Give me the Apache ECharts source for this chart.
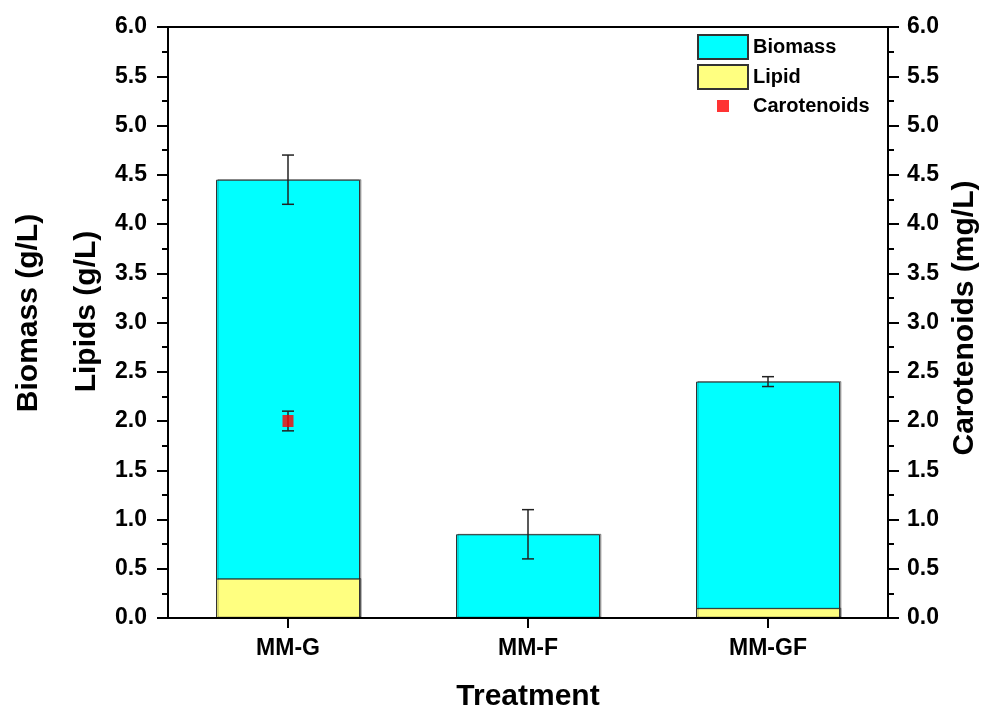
<!DOCTYPE html>
<html><head><meta charset="utf-8">
<script src="https://cdn.jsdelivr.net/npm/echarts@6/dist/echarts.min.js"></script>
<style>html,body{margin:0;padding:0;background:#fff}#c{width:984px;height:710px}</style>
</head><body><div id="c"></div>
<script>
// ---- data ----
const categories = ['MM-G', 'MM-F', 'MM-GF'];
const biomass = [4.45, 0.85, 2.40];
const biomassErr = [0.25, 0.25, 0.05];
const lipid = [0.40, 0, 0.10];
const carotenoids = [2.00, null, null];
const carotenoidsErr = [0.10, null, null];
const yMin = 0, yMax = 6, yInterval = 0.5;

// ---- layout ----
const G = {left: 168, right: 96, top: 27, bottom: 92};
const W = 984, H = 710;
const FONT = "'Liberation Sans', Arial, sans-serif";

function errData(vals, errs) {
  const out = [];
  vals.forEach((v, i) => { if (v != null && errs[i] != null) out.push([i, v - errs[i], v + errs[i]]); });
  return out;
}
function errRender(params, api) {
  const x = api.value(0);
  const lo = api.coord([x, api.value(1)]);
  const hi = api.coord([x, api.value(2)]);
  const w = 6;
  const st = {stroke: '#222', lineWidth: 1.5};
  return {type: 'group', children: [
    {type: 'line', shape: {x1: lo[0], y1: lo[1], x2: hi[0], y2: hi[1]}, style: st},
    {type: 'line', shape: {x1: lo[0] - w, y1: lo[1], x2: lo[0] + w, y2: lo[1]}, style: st},
    {type: 'line', shape: {x1: hi[0] - w, y1: hi[1], x2: hi[0] + w, y2: hi[1]}, style: st}
  ]};
}

const labelStyle = {fontFamily: FONT, fontWeight: 'bold', fontSize: 23, color: '#000'};
const nameStyle = {fontFamily: FONT, fontWeight: 'bold', fontSize: 30, color: '#000'};

function yAxisBase(extra) {
  return Object.assign({
    type: 'value', min: yMin, max: yMax, interval: yInterval,
    axisLine: {show: true, lineStyle: {color: '#000', width: 2}},
    axisTick: {show: true, inside: false, length: 11, lineStyle: {color: '#000', width: 2}},
    minorTick: {show: true, splitNumber: 2, length: 6, lineStyle: {color: '#000', width: 2}},
    splitLine: {show: false},
    axisLabel: Object.assign({margin: 21, formatter: v => v.toFixed(1)}, labelStyle),
    nameLocation: 'middle', nameRotate: 90
  }, extra);
}

const chart = echarts.init(document.getElementById('c'), null, {renderer: 'canvas'});
chart.setOption({
  backgroundColor: '#fff',
  animation: false,
  grid: {left: G.left, right: G.right, top: G.top, bottom: G.bottom, show: false,
    containLabel: false, outerBoundsMode: 'none'},
  legend: {
    left: 692, top: 29, orient: 'vertical', itemWidth: 50, itemHeight: 24, itemGap: 4,
    selectedMode: false,
    textStyle: {fontFamily: FONT, fontWeight: 'bold', fontSize: 20, color: '#000'},
    data: [
      {name: 'Biomass', icon: 'rect'},
      {name: 'Lipid', icon: 'rect'},
      {name: 'Carotenoids', icon: 'path://M0,0M50,24M19,6h12v12h-12z'}
    ]
  },
  xAxis: {
    type: 'category', data: categories,
    axisLine: {show: true, lineStyle: {color: '#000', width: 2}},
    axisTick: {show: true, alignWithLabel: true, length: 10, lineStyle: {color: '#000', width: 2}},
    axisLabel: Object.assign({margin: 19}, labelStyle),
    name: 'Treatment', nameLocation: 'middle', nameGap: 64, nameTextStyle: nameStyle
  },
  yAxis: [
    yAxisBase({position: 'left', name: 'Lipids (g/L)', nameGap: 66,
      nameTextStyle: Object.assign({padding: [0, 0, 0, 22]}, nameStyle)}),
    yAxisBase({position: 'right', name: 'Carotenoids (mg/L)', nameGap: 62,
      axisLabel: Object.assign({margin: 19, formatter: v => v.toFixed(1)}, labelStyle),
      nameTextStyle: Object.assign({padding: [0, 0, 0, 9]}, nameStyle)}),
    {type: 'value', min: yMin, max: yMax, interval: yInterval, position: 'left',
      axisLine: {show: false}, axisTick: {show: false}, axisLabel: {show: false}, splitLine: {show: false},
      name: 'Biomass (g/L)', nameLocation: 'middle', nameRotate: 90, nameGap: 124,
      nameTextStyle: Object.assign({padding: [0, 0, 0, 19]}, nameStyle)}
  ],
  graphic: [
    {type: 'line', shape: {x1: G.left - 11, y1: G.top, x2: W - G.right + 11, y2: G.top},
      style: {stroke: '#000', lineWidth: 2}, z: 10},
    {type: 'line', shape: {x1: G.left - 11, y1: H - G.bottom, x2: W - G.right + 11, y2: H - G.bottom},
      style: {stroke: '#000', lineWidth: 2}, z: 10}
  ],
  series: [
    {name: 'Biomass', type: 'bar', data: biomass, barWidth: '60%', barGap: '-100%', z: 2,
      itemStyle: {color: '#00FFFF', borderColor: '#333', borderWidth: 1,
        shadowColor: 'rgba(0,0,0,0.3)', shadowOffsetX: 1.5, shadowOffsetY: -0.5, shadowBlur: 0}},
    {name: 'Lipid', type: 'bar', data: lipid, barWidth: '60%', barGap: '-100%', z: 3,
      itemStyle: {color: '#FFFF80', borderColor: '#333', borderWidth: 1,
        shadowColor: 'rgba(0,0,0,0.3)', shadowOffsetX: 1.5, shadowOffsetY: -0.5, shadowBlur: 0}},
    {name: 'BiomassErr', type: 'custom', data: errData(biomass, biomassErr), renderItem: errRender,
      encode: {x: 0, y: [1, 2]}, z: 4, silent: true},
    {name: 'CarotenoidsErr', type: 'custom', yAxisIndex: 1, data: errData(carotenoids, carotenoidsErr),
      renderItem: errRender, encode: {x: 0, y: [1, 2]}, z: 4, silent: true},
    {name: 'Carotenoids', type: 'scatter', yAxisIndex: 1, data: carotenoids, symbol: 'rect',
      symbolSize: [11, 12], itemStyle: {color: '#FF0000'}, z: 5}
  ]
});
</script></body></html>
